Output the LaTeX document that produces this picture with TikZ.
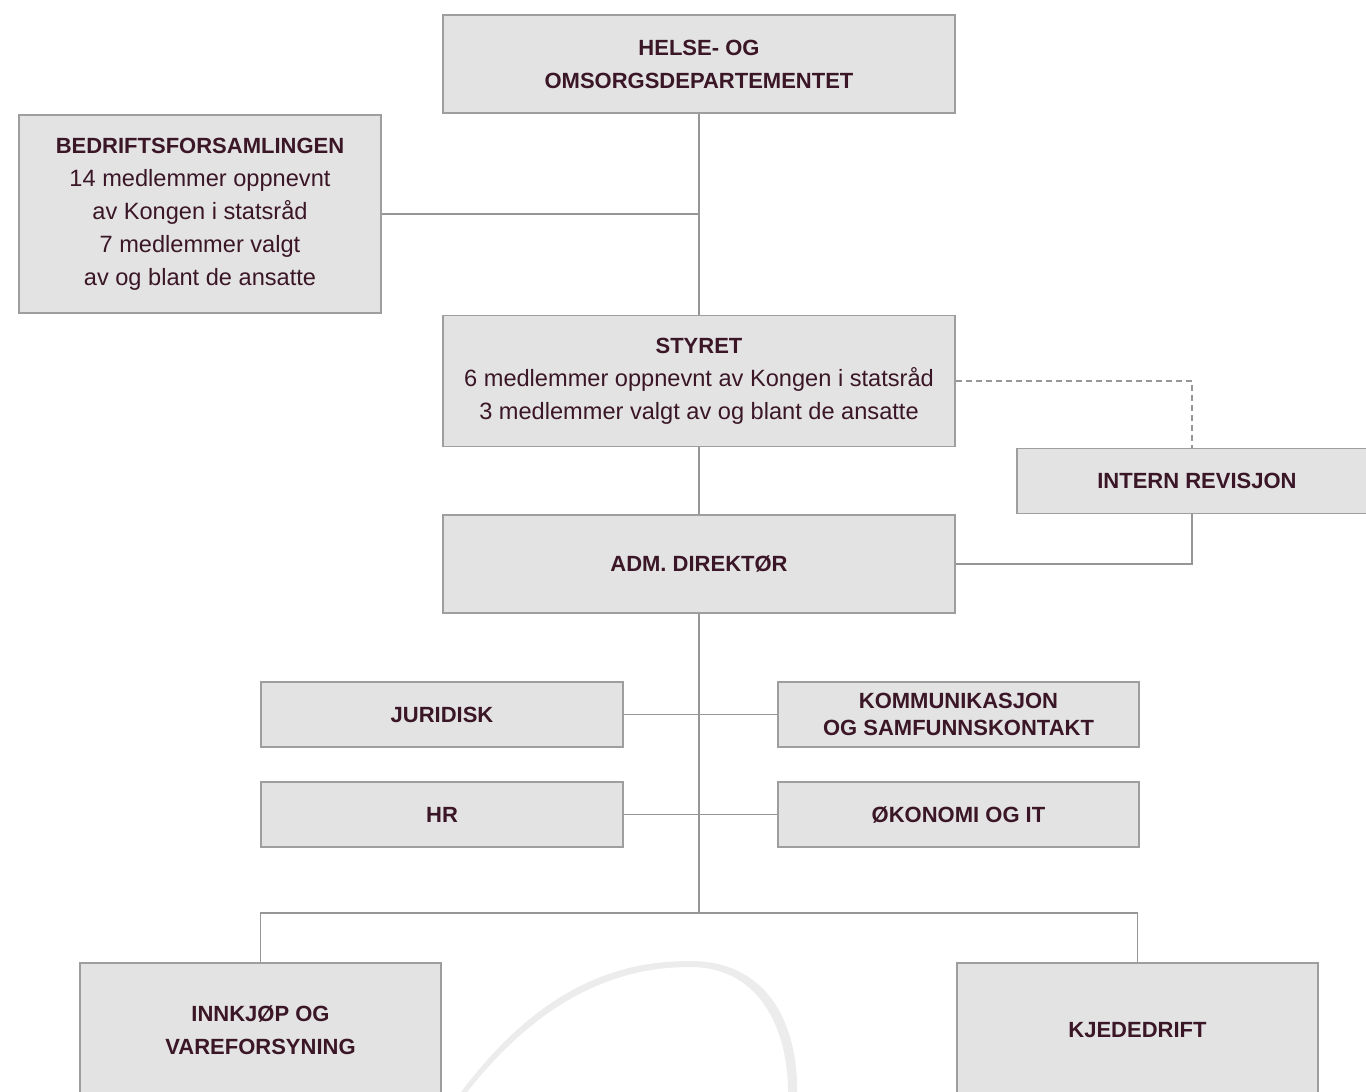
\documentclass[tikz,border=0pt]{standalone}
\usepackage{fontspec}
\setmainfont{Liberation Sans}
\definecolor{cus-text}{RGB}{58, 22, 38}
\definecolor{cus-fill}{RGB}{227, 227, 227}
\definecolor{cus-edge}{RGB}{158, 158, 158}
\definecolor{cus-line}{RGB}{150, 150, 150}
\definecolor{cus-arc}{RGB}{236, 236, 236}
\newcommand{\hd}[1]{{\fontsize{11}{16.5}\selectfont\bfseries #1}}
\tikzset{
	box/.style={draw=cus-edge, line width=.75pt, fill=cus-fill, text=cus-text,
		align=center, inner sep=0pt, font=\fontsize{11.8}{16.5}\selectfont},
	conn/.style={draw=cus-line, line width=.75pt}
}
\begin{document}
\begin{tikzpicture}[x=.5pt, y=-.5pt]
\useasboundingbox (0,0) rectangle (1366,1092);

% watermark arc
\fill [cus-arc] (458,1096) .. controls (540,985) and (620,961) .. (690,961)
	.. controls (772,961) and (799,1030) .. (797,1096) -- (788,1096)
	.. controls (789,1036) and (764,967) .. (690,967)
	.. controls (626,967) and (546,990) .. (464,1096) -- cycle;

\node [box, minimum width=256pt, minimum height=49pt] (hod) at (699,64)
	{\hd{HELSE- OG}\\\hd{OMSORGSDEPARTEMENTET}};
\node [box, minimum width=181pt, minimum height=99pt] (bf) at (200,214)
	{\hd{BEDRIFTSFORSAMLINGEN}\\14 medlemmer oppnevnt\\av Kongen i statsråd\\7 medlemmer valgt\\av og blant de ansatte};
\node [box, minimum width=256pt, minimum height=65.5pt] (styret) at (699,381)
	{\hd{STYRET}\\6 medlemmer oppnevnt av Kongen i statsråd\\3 medlemmer valgt av og blant de ansatte};
\node [box, minimum width=180pt, minimum height=32.5pt] (ir) at (1197,481)
	{\hd{INTERN REVISJON}};
\node [box, minimum width=256pt, minimum height=49pt] (adm) at (699,564)
	{\hd{ADM. DIREKTØR}};
\node [box, minimum width=181pt, minimum height=32.5pt] (jur) at (442,714.5)
	{\hd{JURIDISK}};
\node [box, minimum width=180.5pt, minimum height=32.5pt] (komm) at (958.5,714.5)
	{\hd{KOMMUNIKASJON}\\[-3pt]\hd{OG SAMFUNNSKONTAKT}};
\node [box, minimum width=181pt, minimum height=32.5pt] (hr) at (442,814.5)
	{\hd{HR}};
\node [box, minimum width=180.5pt, minimum height=32.5pt] (okit) at (958.5,814.5)
	{\hd{ØKONOMI OG IT}};
\node [box, minimum width=180.5pt, minimum height=67pt] (innk) at (260.5,1030)
	{\hd{INNKJØP OG}\\\hd{VAREFORSYNING}};
\node [box, minimum width=180.5pt, minimum height=67pt] (kjede) at (1137.5,1030)
	{\hd{KJEDEDRIFT}};

\coordinate (split) at (699,913);

\draw [conn] (hod) -- (styret);
\draw [conn] (bf.east) -- (bf.east -| hod.south);
\draw [conn] (styret) -- (adm);
\draw [conn, dashed, dash pattern=on 3pt off 2pt] (styret.east) -| ([xshift=-2.5pt]ir.north);
\draw [conn] ([xshift=-2.5pt]ir.south) |- (adm.east);
\draw [conn] (adm) -- (split);
\draw [conn] (jur) -- (komm);
\draw [conn] (hr) -- (okit);
\draw [conn] (innk.north) |- (split) -| (kjede.north);
\end{tikzpicture}
\end{document}
